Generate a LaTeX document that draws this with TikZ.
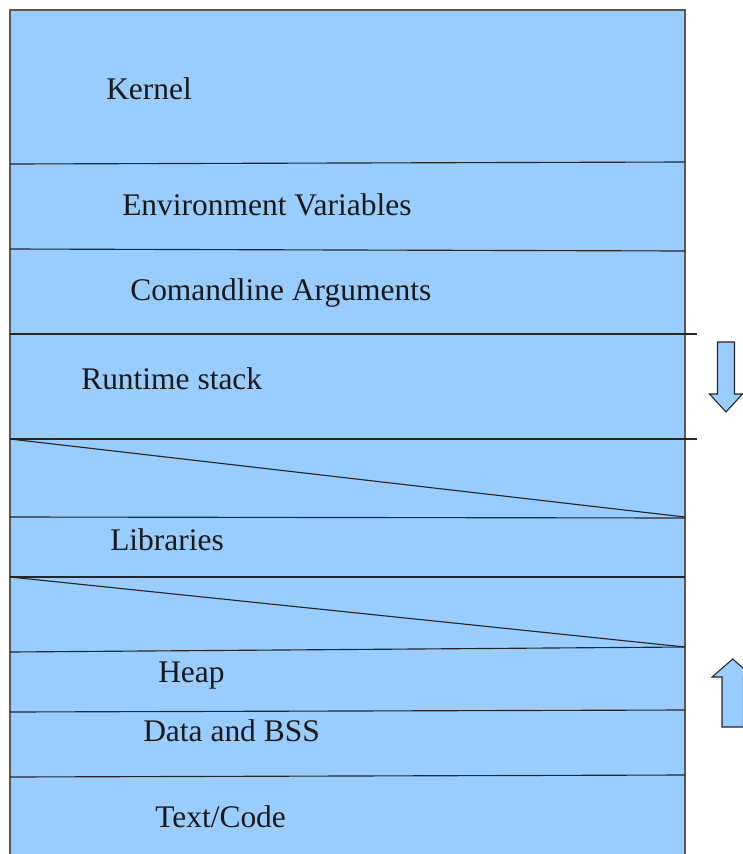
\documentclass[tikz,border=0pt]{standalone}
\usepackage{fontspec}
\setmainfont{Liberation Serif}
\usepackage{xcolor}

\definecolor{memblue}{HTML}{99CCFF}

\begin{document}
\begin{tikzpicture}[
            x=0.75pt, y=-0.75pt,
            seg/.style={draw=black!85, line width=0.85pt},
            memlabel/.style={anchor=base west, inner sep=0pt, font=\fontsize{23.6}{28}\selectfont, text=black!90},
            growarrow/.style={draw=black!85, fill=memblue, line width=0.8pt, line join=miter}
        ]
        \useasboundingbox (0,0) rectangle (743,854);
        \clip (0,0) rectangle (743,854);

        % Memory block
        \fill[memblue] (10,10) rectangle (685,860);
        \draw[seg, draw=black!65] (10,860) -- (10,10) -- (685,10) -- (685,860);

        % Dividers
        \draw[seg] (10,164) -- (685,162);
        \draw[seg] (10,249) -- (685,251);
        \draw[seg] (10,334) -- (697,334);
        \draw[seg] (10,439) -- (697,439);
        \draw[seg] (10,439) -- (685,517);
        \draw[seg] (10,517) -- (685,518);
        \draw[seg] (10,577) -- (685,577);
        \draw[seg] (10,577) -- (685,647);
        \draw[seg] (10,652) -- (685,647);
        \draw[seg] (10,712) -- (685,710);
        \draw[seg] (10,777) -- (685,775);

        % Nodes
        \node[memlabel] (kernel) at (106,99) {Kernel};
        \node[memlabel] (env) at (122,215) {Environment Variables};
        \node[memlabel] (args) at (130,300) {Comandline Arguments};
        \node[memlabel] (stack) at (81,389) {Runtime stack};
        \node[memlabel] (libs) at (110,550) {Libraries};
        \node[memlabel] (heap) at (158,682) {Heap};
        \node[memlabel] (data) at (143,741) {Data and BSS};
        \node[memlabel] (text) at (155,827) {Text/Code};

        % Arrows
        \draw[growarrow] (717.5,342) -- (734.5,342) -- (734.5,394) -- (742.5,394)
            -- (726,412) -- (709.5,394) -- (717.5,394) -- cycle;
        \draw[growarrow] (722,727) -- (743.4,727) -- (743.4,677) -- (753.4,677)
            -- (732.7,659) -- (712,677) -- (722,677) -- cycle;
\end{tikzpicture}
\end{document}
